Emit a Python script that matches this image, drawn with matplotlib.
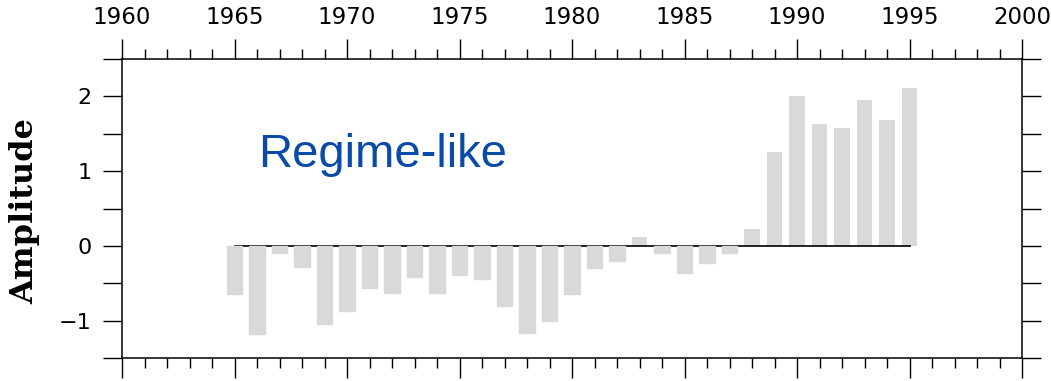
import numpy as np
import matplotlib.pyplot as plt

# Amplitude of the regime-like time series, one bar per year
years = np.arange(1965, 1996)
amplitude = [-0.65, -1.18, -0.09, -0.28, -1.05, -0.87, -0.57, -0.63, -0.41, -0.63,
             -0.39, -0.44, -0.81, -1.16, -1.00, -0.65, -0.30, -0.20, 0.12, -0.09,
             -0.36, -0.23, -0.09, 0.22, 1.26, 2.00, 1.63, 1.58, 1.95, 1.68, 2.11]
amplitude = np.array(amplitude)

x_major = np.arange(1960, 2001, 5)
x_minor = np.arange(1960, 2001, 1)
y_major = [-1, 0, 1, 2]
y_minor = np.arange(-1.5, 2.51, 0.5)

bar_color = '#d9d9d9'

fig = plt.figure(figsize=(10.51, 3.81), dpi=100)
ax = fig.add_axes([122 / 1051, 23 / 381, 900 / 1051, 299 / 381])

pos = amplitude >= 0
# positive bars sit below the zero line, negative ones cover it
ax.bar(years[pos], amplitude[pos], width=0.68, color=bar_color, zorder=1)
ax.plot([years[0], years[-1]], [0, 0], color='black', linewidth=1.2, zorder=2)
ax.bar(years[~pos], amplitude[~pos], width=0.68, color=bar_color,
       edgecolor=bar_color, linewidth=1.0, zorder=3)

ax.set_xlim(1960, 2000)
ax.set_ylim(-1.5, 2.5)

ax.set_xticks(x_major)
ax.set_xticks(x_minor, minor=True)
ax.set_yticks(y_major)
ax.set_yticks(y_minor, minor=True)

ax.tick_params(axis='x', which='both', direction='out', top=True, bottom=True,
               labeltop=True, labelbottom=False, width=1.0, labelsize=16.5, pad=7)
ax.tick_params(axis='x', which='major', length=14.5)
ax.tick_params(axis='x', which='minor', length=7.5)
ax.tick_params(axis='y', which='both', direction='out', left=True, right=True,
               labelleft=True, labelright=False, width=1.0, length=13.7,
               labelsize=16, pad=8)

for s in ax.spines.values():
    s.set_linewidth(1.1)

ax.text(1966.04, 1.053, 'Regime-like', color='#0a4aa8', fontsize=34,
        family='Liberation Sans', ha='left', va='baseline')

fig.text(25 / 1051, (381 - 211) / 381, 'Amplitude', rotation=90,
         family='DejaVu Serif', fontweight='bold', fontsize=23,
         ha='center', va='center')

fig.savefig('out.png', dpi=100)
